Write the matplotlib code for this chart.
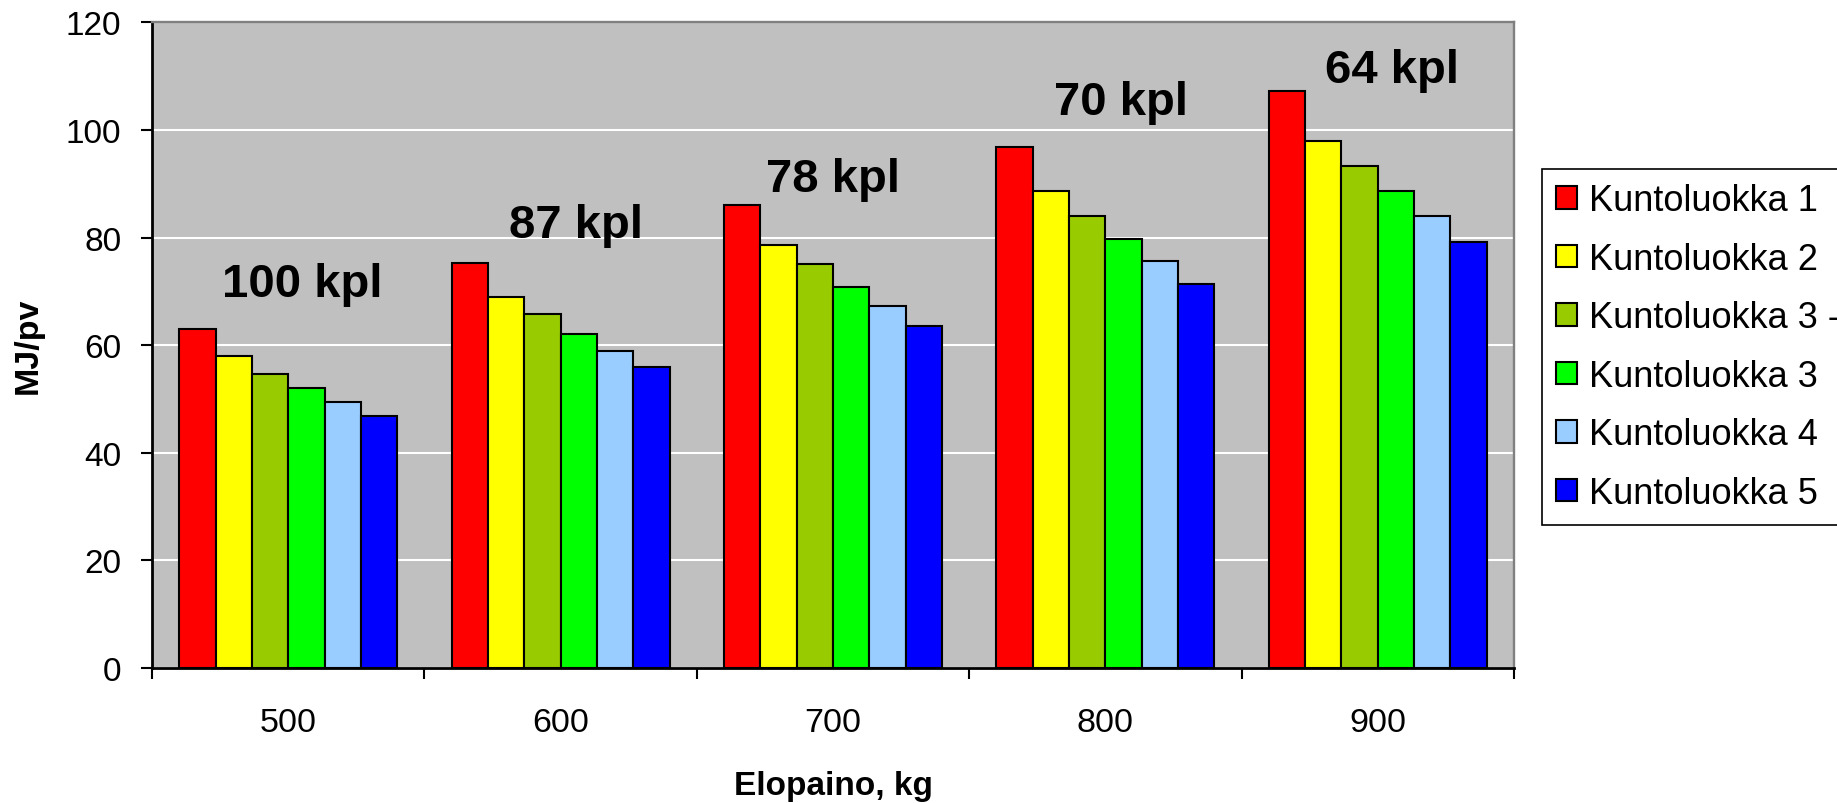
import matplotlib
matplotlib.use('Agg')
import matplotlib.pyplot as plt
import numpy as np

plt.rcParams['font.family'] = ['Liberation Sans', 'DejaVu Sans']

# ---- data ----
weights = ['500', '600', '700', '800', '900']
series_names = ['Kuntoluokka 1', 'Kuntoluokka 2', 'Kuntoluokka 3 -',
                'Kuntoluokka 3', 'Kuntoluokka 4', 'Kuntoluokka 5']
k1 = [63.1, 75.3, 86.0, 96.9, 107.2]
k2 = [57.9, 68.9, 78.7, 88.6, 97.9]
k3m = [54.7, 65.8, 75.1, 84.0, 93.3]
k3 = [52.1, 62.1, 70.9, 79.7, 88.6]
k4 = [49.5, 59.0, 67.2, 75.6, 84.0]
k5 = [46.9, 55.9, 63.6, 71.4, 79.2]
counts = [100, 87, 78, 70, 64]

# ---- styles / layout ----
colors = ['#FF0000', '#FFFF00', '#99CC00', '#00FF00', '#99CCFF', '#0000FF']
label_dx = [0.05, 0.057, 0.0, 0.057, 0.051]
label_base = [69.1, 80.2, 88.7, 103.0, 108.9]

series = [k1, k2, k3m, k3, k4, k5]

fig = plt.figure(figsize=(18.37, 8.04), dpi=100)
ax = fig.add_axes([0.08274, 0.16791, 0.74142, 0.80299])
ax.set_facecolor('#C0C0C0')

x = np.arange(len(weights))
w = 1 / 7.5
for i, (vals, c, name) in enumerate(zip(series, colors, series_names)):
    ax.bar(x + (i - 2.5) * w, vals, width=w, color=c, edgecolor='black',
           linewidth=1.5, label=name, zorder=3)

ax.set_xlim(-0.5, 4.5)
ax.set_ylim(0, 120)
ax.set_yticks(range(0, 121, 20))
ax.yaxis.grid(True, color='white', linewidth=1.5)
ax.xaxis.grid(False)
ax.set_axisbelow(True)

ax.set_xticks(np.arange(-0.5, 4.6, 1))
ax.set_xticklabels([])
ax.set_xticks(x, minor=True)
ax.set_xticklabels(weights, minor=True)
ax.tick_params(axis='x', which='minor', length=0, pad=28, labelsize=24.5)
ax.tick_params(axis='x', which='major', length=8, width=1.5, direction='out')
ax.tick_params(axis='y', length=8, width=1.5, direction='out', pad=14,
               labelsize=24)

for s in ['left', 'bottom']:
    ax.spines[s].set_color('black')
    ax.spines[s].set_linewidth(2)
for s in ['top', 'right']:
    ax.spines[s].set_color('#808080')
    ax.spines[s].set_linewidth(1.7)

ax.set_ylabel('MJ/pv', fontsize=24.5, fontweight='bold', va='center')
ax.yaxis.set_label_coords(-0.0905, 0.5)
ax.set_xlabel('Elopaino, kg', fontsize=24, fontweight='bold', va='baseline')
ax.xaxis.set_label_coords(0.5, -0.1952)

for i, n in enumerate(counts):
    ax.text(x[i] + label_dx[i], label_base[i], f'{n} kpl', ha='center',
            va='baseline', fontsize=34, fontweight='bold', zorder=4)

leg = fig.legend(loc='upper left', bbox_to_anchor=(1542 / 1837, 1 - 170 / 804),
                 fontsize=26, frameon=True, fancybox=False, edgecolor='black',
                 framealpha=1, facecolor='white', borderpad=0.4,
                 borderaxespad=0, handlelength=0.58, handleheight=0.58,
                 handletextpad=0.33, labelspacing=0.65)
leg.get_frame().set_linewidth(1.2)

fig.savefig('out.png', dpi=100)
